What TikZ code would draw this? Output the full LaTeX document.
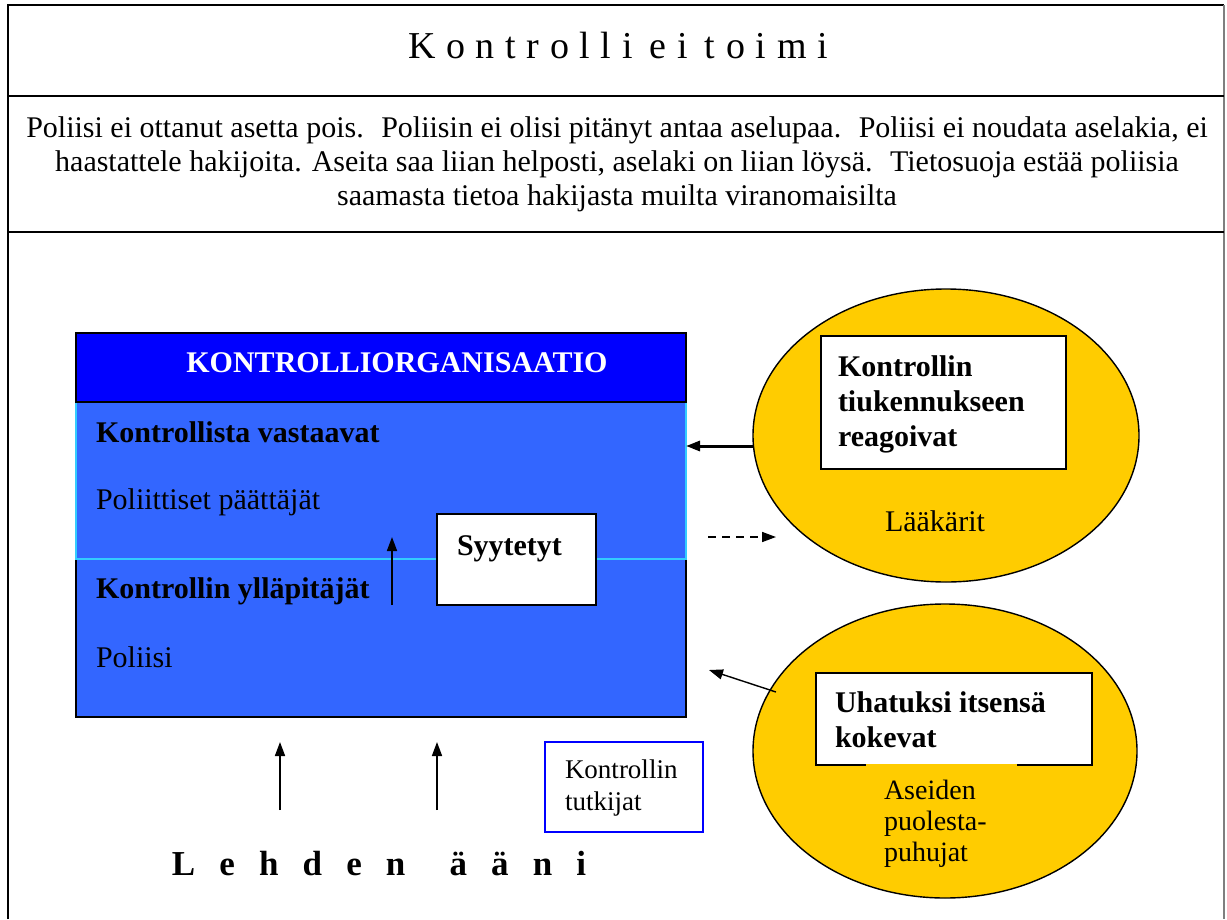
\documentclass[tikz,border=0pt]{standalone}
\usepackage{fontspec}
\setmainfont{Liberation Serif}
\usetikzlibrary{positioning}
\usetikzlibrary{shapes.geometric}
\usetikzlibrary{arrows.meta}
\definecolor{BLACK}{HTML}{000000}
\definecolor{BLUE}{HTML}{3366FF}
\definecolor{BLUE_D}{HTML}{0000FF}
\definecolor{CYAN}{HTML}{33CCFF}
\definecolor{GOLD}{HTML}{FFCC00}
\definecolor{GRAY_E}{HTML}{7F7F7F}
\tikzset{
	every node/.style = {font=\fontsize{30}{35}\selectfont, inner sep=0pt, outer sep=0pt},
	txt/.style = {anchor=base west},
	txtb/.style = {anchor=base west, font=\bfseries\fontsize{30}{35}\selectfont},
	pointer/.style = {-{Triangle[length=14pt,width=10pt]}, line width=1.6pt},
	whitebox/.style = {draw, line width=1.6pt, fill=white, anchor=north west},
	oval/.style = {ellipse, draw, line width=1.4pt, fill=GOLD}
}

\begin{document}
\begin{tikzpicture}[x=1pt, y=-1pt]
		\useasboundingbox (0,0) rectangle (1227,919);
		% cadre
		\draw[line width=1.8pt] (8,919) -- (8,5) -- (1224,5);
		\draw[line width=1.2pt, GRAY_E] (1224,5) -- (1224,919);
		\draw[line width=1.8pt] (8,96) -- (1224,96);
		\draw[line width=1.8pt] (8,232) -- (1224,232);
		
		% titre
		\node[font=\fontsize{38}{40}\selectfont, anchor=base] (title) at (618,58) {\spaceskip=.28em K o n t r o l l i\hspace{.45em}e i\hspace{.45em}t o i m i};
		% base = last line
		\node[font=\fontsize{30}{34}\selectfont, align=center, anchor=base] (causes) at (617,205) {Poliisi ei ottanut asetta pois.~ Poliisin ei olisi pitänyt antaa aselupaa.~ Poliisi ei noudata aselakia, ei\\
			haastattele hakijoita. Aseita saa liian helposti, aselaki on liian löysä.~ Tietosuoja estää poliisia\\
			saamasta tietoa hakijasta muilta viranomaisilta};
		
		% organisaatio
		\node[draw, line width=1.6pt, fill=BLUE, minimum width=610, minimum height=158, anchor=north west] (low) at (76,559) {};
		\node[draw=CYAN, line width=1.6pt, fill=BLUE, minimum width=610, minimum height=157, anchor=north west] (up) at (76,402) {};
		\node[draw, line width=1.6pt, fill=BLUE_D, minimum width=610, minimum height=69, anchor=north west] (hdr) at (76,333) {};
		\node[text=white, font=\bfseries\fontsize{30}{35}\selectfont, anchor=base] (hdrtxt) at (397,372) {KONTROLLIORGANISAATIO};
		\node[txtb] (vast) at (96,442) {Kontrollista vastaavat};
		\node[txt] (poli) at (96,509) {Poliittiset päättäjät};
		\node[txtb] (yllap) at (96,598) {Kontrollin ylläpitäjät};
		\node[txt] (poliisi) at (96,667) {Poliisi};
		
		% syytetyt
		\node[whitebox, minimum width=159, minimum height=91] (syy) at (437,514) {};
		\node[txtb] (syytxt) at (457,555) {Syytetyt};
		\coordinate (s1) at (392,605);
		\coordinate (s2) at (392,537);
		\draw[pointer] (s1) -- (s2);
		
		% reagoivat
		\node[oval, minimum width=386, minimum height=293] (reag) at (946,435.5) {};
		\node[whitebox, minimum width=245, minimum height=133] (reagbox) at (821,336) {};
		\node[txtb, align=left] (reagtxt) at (838,446) {Kontrollin\\tiukennukseen\\reagoivat};
		\node[txt] (laak) at (885,531) {Lääkärit};
		\draw[pointer, line width=3pt] (reag.west |- 0,446) -- (up.east |- 0,446);
		\coordinate (d1) at (708,537);
		\coordinate (d2) at (776,537);
		\draw[pointer, dash pattern=on 8pt off 6pt] (d1) -- (d2);
		
		% uhatuksi
		\node[oval, minimum width=384, minimum height=294] (uhat) at (945,751) {};
		\node[whitebox, minimum width=276, minimum height=92] (uhatbox) at (816,673) {};
		\node[txtb, align=left] (uhattxt) at (835,747) {Uhatuksi itsensä\\kokevat};
		\node[fill=GOLD, anchor=north west, font=\fontsize{28}{31}\selectfont, text width=115pt, align=left, inner xsep=18pt, inner ysep=16pt] (ase) at (866,764) {Aseiden\\puolesta-\\puhujat};
		\coordinate (u1) at (776,692);
		\coordinate (u2) at (709,670);
		\draw[pointer, line width=1.4pt] (u1) -- (u2);
		
		% tutkijat
		\node[draw=BLUE_D, line width=1.5pt, minimum width=158, minimum height=90, anchor=north west] (tutk) at (545,742) {};
		\node[txt, font=\fontsize{27}{32}\selectfont, align=left] (tutktxt) at (565,810) {Kontrollin\\tutkijat};
		
		% lehden aani
		\coordinate (l1) at (280,810);
		\coordinate (l2) at (280,742);
		\coordinate (l3) at (437,810);
		\coordinate (l4) at (437,742);
		\draw[pointer] (l1) -- (l2);
		\draw[pointer] (l3) -- (l4);
		\node[font=\bfseries\fontsize{35}{40}\selectfont, anchor=base] (lehti) at (379,875) {\spaceskip=.69em L e h d e n\hspace{1.26em}ä ä n i};
	\end{tikzpicture}
\end{document}
